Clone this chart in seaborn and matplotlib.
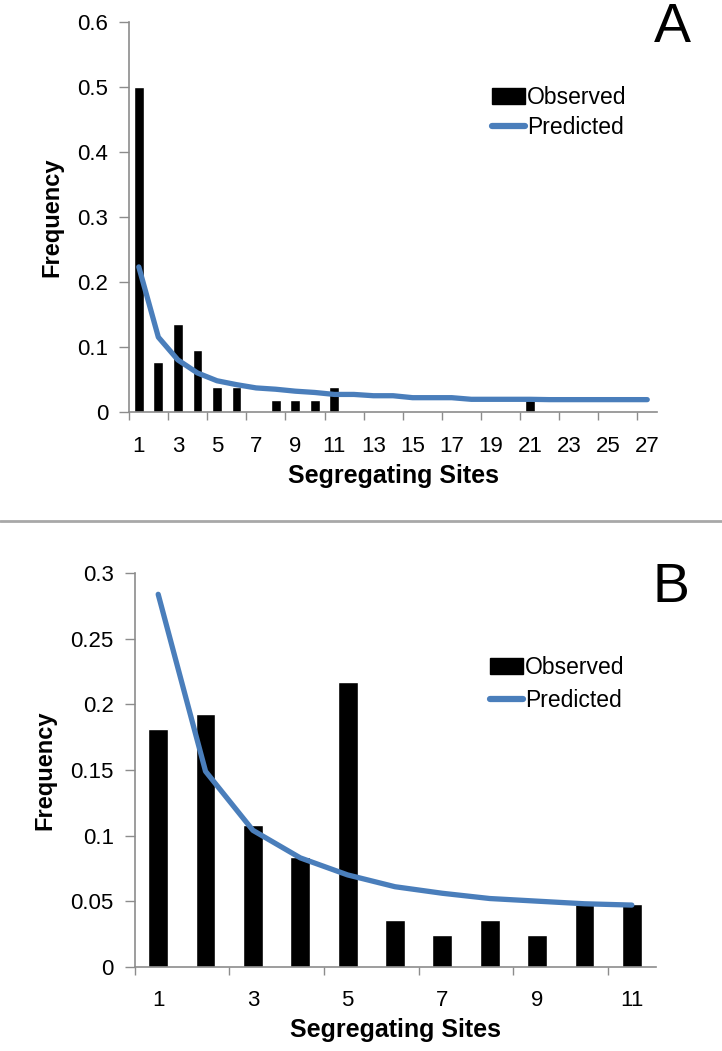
import numpy as np
import pandas as pd
import seaborn as sns
import matplotlib.pyplot as plt
from matplotlib.patches import Patch
from matplotlib.lines import Line2D

# panel A
sites_a = list(range(1, 28))
observed_a = [0.500, 0.077, 0.135, 0.096, 0.038, 0.038, 0.0, 0.019, 0.019, 0.019,
              0.038, 0.0, 0.0, 0.0, 0.0, 0.0, 0.0, 0.0, 0.0, 0.0,
              0.019, 0.0, 0.0, 0.0, 0.0, 0.0, 0.0]
predicted_a = [0.223, 0.115, 0.080, 0.060, 0.048, 0.042, 0.037, 0.035, 0.032, 0.030,
               0.027, 0.027, 0.025, 0.025, 0.022, 0.022, 0.022, 0.0195, 0.0195, 0.0195,
               0.0195, 0.019, 0.019, 0.019, 0.019, 0.019, 0.019]

# panel B
sites_b = list(range(1, 12))
observed_b = [0.181, 0.193, 0.108, 0.084, 0.217, 0.036, 0.024, 0.036, 0.024, 0.048, 0.048]
predicted_b = [0.284, 0.149, 0.104, 0.083, 0.070, 0.061, 0.056, 0.052, 0.050, 0.048, 0.047]

sns.set_theme(style="white", rc={
    "text.color": "black",
    "axes.labelcolor": "black",
    "xtick.color": "black",
    "ytick.color": "black",
})
plt.rcParams['font.family'] = ['Liberation Sans', 'DejaVu Sans']

BLUE = "#4A7EBB"
AXC = "#8C8C8C"

fig = plt.figure(figsize=(7.22, 10.51), dpi=100)
ax_a = fig.add_axes([0.1787, 0.6080, 0.7313, 0.3714])
ax_b = fig.add_axes([0.1863, 0.0802, 0.7216, 0.3743])


def draw(ax, sites, obs, pred, ymax, ystep, bar_w, leg_pos, leg_sp, letter_y, letter):
    df = pd.DataFrame({"site": sites, "observed": obs, "predicted": pred})
    sns.barplot(data=df, x="site", y="observed", native_scale=True,
                color="black", saturation=1, width=bar_w, ax=ax)
    sns.lineplot(data=df, x="site", y="predicted", color=BLUE, lw=3.8,
                 solid_capstyle="round", ax=ax)
    n = len(sites)
    ax.set_xlim(0.5, n + 0.5)
    ax.set_ylim(0, ymax)
    yt = np.round(np.arange(0, ymax + 1e-9, ystep), 3)
    ax.set_yticks(yt)
    ax.set_yticklabels([f"{v:g}" for v in yt])
    ax.set_xticks(np.arange(0.5, n, 2))
    ax.set_xticklabels([])
    ax.set_xticks(sites[::2], minor=True)
    ax.set_xticklabels([str(s) for s in sites[::2]], minor=True)
    ax.tick_params(axis="x", which="major", bottom=True, length=6, width=1,
                   color=AXC, direction="out")
    ax.tick_params(axis="x", which="minor", bottom=True, length=0, pad=17,
                   labelsize=16, labelcolor="black")
    ax.tick_params(axis="y", left=True, length=7, width=1, color=AXC, direction="out",
                   pad=8, labelsize=16, labelcolor="black")
    for s in ["top", "right"]:
        ax.spines[s].set_visible(False)
    for s in ["left", "bottom"]:
        ax.spines[s].set_color(AXC)
        ax.spines[s].set_linewidth(1.2)
    ax.set_xlabel("Segregating Sites", fontsize=18, fontweight="bold", labelpad=5)
    ax.set_ylabel("Frequency", fontsize=17, fontweight="bold", labelpad=10)
    handles = [Patch(facecolor="black", edgecolor="black"),
               Line2D([0], [0], color=BLUE, lw=4.5, solid_capstyle="round")]
    ax.legend(handles, ["Observed", "Predicted"], loc="upper left",
              bbox_to_anchor=leg_pos, frameon=False, fontsize=16.5,
              handlelength=1.45, handletextpad=0.1, labelspacing=leg_sp,
              borderpad=0, borderaxespad=0)
    ax.text(1.03, letter_y, letter, transform=ax.transAxes, fontsize=40,
            ha="center", va="top", color="black")


draw(ax_a, sites_a, observed_a, predicted_a, 0.6, 0.1, 0.5, (0.687, 0.835), 0.3, 1.05, "A")
draw(ax_b, sites_b, observed_b, predicted_b, 0.3, 0.05, 0.42, (0.682, 0.79), 0.45, 1.03, "B")

fig.add_artist(Line2D([0, 1], [0.5043, 0.5043], color="#A8A8A8", lw=2,
                      transform=fig.transFigure))

fig.savefig("out.png", dpi=100)
